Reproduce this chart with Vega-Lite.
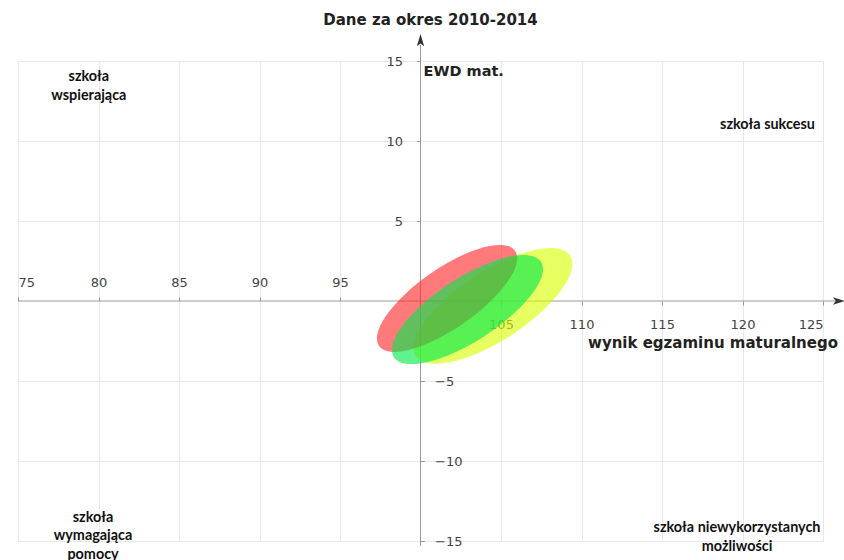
{
  "$schema": "https://vega.github.io/schema/vega-lite/v6.json",
  "width": 805,
  "height": 480,
  "autosize": {"type": "none"},
  "padding": {"left": 18, "top": 61, "right": 21, "bottom": 19},
  "background": "white",
  "title": {"text": "Dane za okres 2010-2014", "font": "DejaVu Sans", "fontSize": 15, "fontWeight": "bold", "color": "#222", "offset": 6, "dx": 10},
  "config": {"view": {"stroke": null}},
  "data": {"values": [{}]},
  "datasets": {
    "ellipsy": [
      {"seria": "seria 3", "x": 104.5, "y": -0.31},
      {"seria": "seria 1", "x": 101.65, "y": 0.16},
      {"seria": "seria 2", "x": 102.92, "y": -0.53}
    ],
    "opisy": [
      {"tekst": "szkoła\nwspierająca", "x": 79.4, "y": 14.0},
      {"tekst": "szkoła sukcesu", "x": 121.55, "y": 11.0},
      {"tekst": "szkoła\nwymagająca\npomocy", "x": 79.66, "y": -13.56},
      {"tekst": "szkoła niewykorzystanych\nmożliwości", "x": 119.66, "y": -14.19}
    ]
  },
  "resolve": {"axis": {"x": "independent", "y": "independent"}},
  "layer": [
    {
      "mark": {"type": "rule", "color": "#999", "strokeWidth": 1},
      "encoding": {
        "x": {"datum": 75, "type": "quantitative",
          "scale": {"domain": [75, 125], "nice": false, "zero": false},
          "axis": {"orient": "bottom", "offset": -240, "values": [105, 110, 115, 120, 125], "domain": false, "grid": true, "gridColor": "#e8e8e8", "tickSize": 4, "tickColor": "#999", "labelPadding": 13, "labelFont": "DejaVu Sans", "labelFontSize": 13, "labelColor": "#444", "title": null}},
        "x2": {"datum": 125.75},
        "y": {"datum": 0, "type": "quantitative",
          "scale": {"domain": [-15, 15], "nice": false, "zero": false},
          "axis": {"orient": "left", "offset": -402.5, "values": [5, 10, 15], "domain": false, "grid": true, "gridColor": "#e8e8e8", "tickSize": 4, "tickColor": "#999", "labelPadding": 14, "labelFont": "DejaVu Sans", "labelFontSize": 13, "labelColor": "#444", "title": null}}
      }
    },
    {
      "mark": {"type": "rule", "color": "#999", "strokeWidth": 1},
      "encoding": {
        "x": {"datum": 100, "type": "quantitative",
          "axis": {"orient": "top", "offset": -240, "values": [75, 80, 85, 90, 95], "domain": false, "grid": true, "gridColor": "#e8e8e8", "tickSize": 4, "tickColor": "#999", "labelPadding": 8, "labelFont": "DejaVu Sans", "labelFontSize": 13, "labelColor": "#444", "title": null}},
        "y": {"datum": -15.3, "type": "quantitative",
          "axis": {"orient": "right", "offset": -402.5, "values": [-15, -10, -5], "domain": false, "grid": true, "gridColor": "#e8e8e8", "tickSize": 4, "tickColor": "#999", "labelPadding": 10, "labelFont": "DejaVu Sans", "labelFontSize": 13, "labelColor": "#444", "title": null}},
        "y2": {"datum": 16.0}
      }
    },
    {
      "data": {"name": "ellipsy"},
      "mark": {"type": "point", "filled": true, "fillOpacity": 0.62, "opacity": 1, "strokeWidth": 0},
      "encoding": {
        "x": {"field": "x", "type": "quantitative", "axis": null},
        "y": {"field": "y", "type": "quantitative", "axis": null},
        "shape": {"field": "seria", "type": "nominal", "legend": null,
          "scale": {"domain": ["seria 1", "seria 2", "seria 3"],
            "range": [
              "M-0.819,0.574A1,0.36,-35,1,1,0.819,-0.574A1,0.36,-35,1,1,-0.819,0.574Z",
              "M-0.839,0.545A1,0.36,-33,1,1,0.839,-0.545A1,0.36,-33,1,1,-0.839,0.545Z",
              "M-0.839,0.545A1,0.375,-33,1,1,0.839,-0.545A1,0.375,-33,1,1,-0.839,0.545Z"
            ]}},
        "size": {"field": "seria", "type": "ordinal", "legend": null,
          "scale": {"domain": ["seria 1", "seria 2", "seria 3"], "range": [27556, 33856, 30976]}},
        "fill": {"field": "seria", "type": "nominal", "legend": null,
          "scale": {"domain": ["seria 1", "seria 2", "seria 3"], "range": ["#ff2a2a", "#00e84a", "#d8ff00"]}}
      }
    },
    {
      "mark": {"type": "point", "filled": true, "opacity": 1, "color": "#333", "size": 150, "shape": "M0,-1L0.6,1L0,0.55L-0.6,1Z"},
      "encoding": {"x": {"datum": 100, "axis": null}, "y": {"datum": 16.3, "axis": null}}
    },
    {
      "mark": {"type": "point", "filled": true, "opacity": 1, "color": "#333", "size": 150, "angle": 90, "shape": "M0,-1L0.6,1L0,0.55L-0.6,1Z"},
      "encoding": {"x": {"datum": 126.0, "axis": null}, "y": {"datum": 0, "axis": null}}
    },
    {
      "data": {"name": "opisy"},
      "mark": {"type": "text", "font": "Lato", "fontSize": 14.4, "fontWeight": "bold", "color": "#111", "lineBreak": "\n", "lineHeight": 18.5, "align": "center", "baseline": "middle"},
      "encoding": {
        "x": {"field": "x", "type": "quantitative", "axis": null},
        "y": {"field": "y", "type": "quantitative", "axis": null},
        "text": {"field": "tekst"}
      }
    },
    {
      "mark": {"type": "text", "text": "EWD mat.", "font": "DejaVu Sans", "fontSize": 14.5, "fontWeight": "bold", "color": "#222", "align": "left", "baseline": "middle"},
      "encoding": {"x": {"datum": 100.19, "axis": null}, "y": {"datum": 14.3, "axis": null}}
    },
    {
      "mark": {"type": "text", "text": "wynik egzaminu maturalnego", "font": "DejaVu Sans", "fontSize": 15, "fontWeight": "bold", "color": "#222", "align": "right", "baseline": "middle"},
      "encoding": {"x": {"datum": 125.93, "axis": null}, "y": {"datum": -2.63, "axis": null}}
    }
  ]
}
